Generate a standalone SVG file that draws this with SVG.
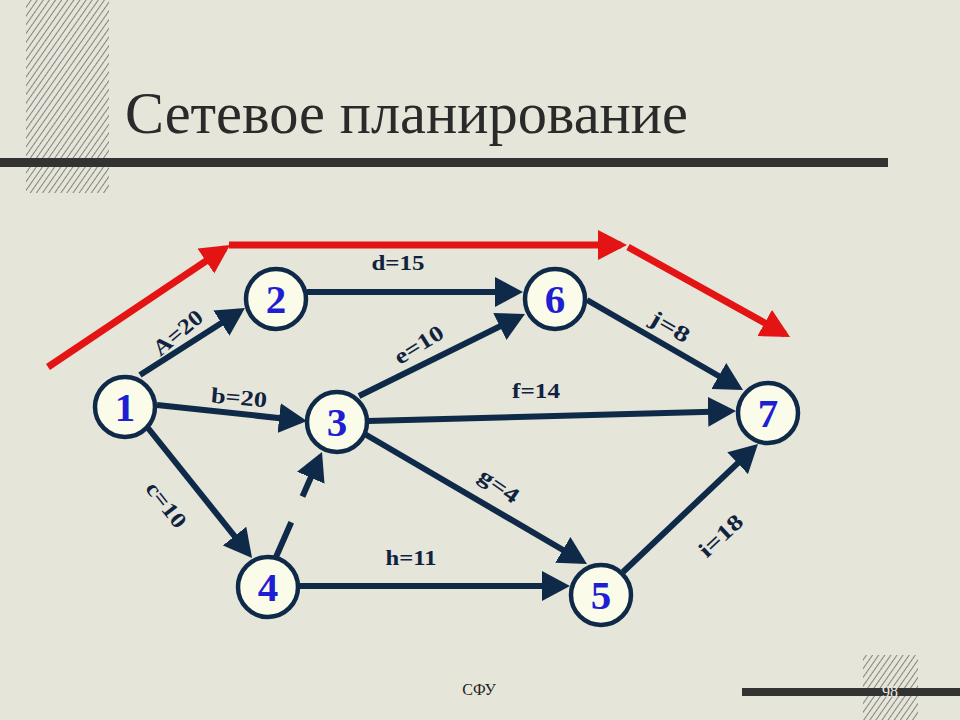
<svg xmlns="http://www.w3.org/2000/svg" width="960" height="720" viewBox="0 0 960 720">
<defs>
<pattern id="hatch" patternUnits="userSpaceOnUse" width="5" height="5" patternTransform="rotate(35)">
<rect width="5" height="5" fill="#e5e5d9"/>
<line x1="0" y1="0" x2="0" y2="5" stroke="#6a6a6a" stroke-width="1.6"/>
</pattern>
<marker id="ah" markerUnits="userSpaceOnUse" markerWidth="30" markerHeight="30" refX="22" refY="15" orient="auto">
<path d="M0,0 L28,15 L0,30 z" fill="#0f2a48"/>
</marker>
<marker id="ar" markerUnits="userSpaceOnUse" markerWidth="32" markerHeight="32" refX="23" refY="15" orient="auto">
<path d="M0,0 L29,15 L0,30 z" fill="#e41414"/>
</marker>
</defs>
<style>
.edge{stroke:#0f2a48;stroke-width:6;fill:none;marker-end:url(#ah)}
.red{stroke:#e41414;stroke-width:7;fill:none;marker-end:url(#ar)}
.node circle{fill:#fbfbea;stroke:#0f2a48;stroke-width:4.5}
.node text{font-family:"Liberation Serif","Times New Roman",serif;font-weight:bold;font-size:41px;fill:#1e1ed2;text-anchor:middle}
.lbl{font-family:"Liberation Serif","Times New Roman",serif;font-weight:bold;font-size:22px;fill:#0f2240;text-anchor:middle}
</style>
<rect width="960" height="720" fill="#e5e5d9"/>
<rect x="26" y="0" width="83" height="193" fill="url(#hatch)"/>
<rect x="863" y="655" width="55" height="65" fill="url(#hatch)"/>
<rect x="0" y="158" width="888" height="9" fill="#333333"/>
<rect x="742" y="688" width="218" height="8" fill="#333333"/>
<text x="125" y="133" font-family="'Liberation Serif','Times New Roman',serif" font-size="60" fill="#2a2a2a" textLength="563" lengthAdjust="spacingAndGlyphs">Сетевое планирование</text>
<text x="479" y="695" font-family="'Liberation Serif','Times New Roman',serif" font-size="16" fill="#222222" text-anchor="middle">СФУ</text>
<text x="890" y="697" font-family="'Liberation Serif','Times New Roman',serif" font-size="16" fill="#e8e8e0" text-anchor="middle">98</text>

<g id="critical-path">
<line class="red" x1="48" y1="367" x2="225" y2="248.3"/>
<line class="red" x1="229" y1="245" x2="621" y2="245"/>
<line class="red" x1="628" y1="247" x2="784.8" y2="334.1"/>
</g>

<g id="connectors">
<line class="edge" x1="140" y1="375" x2="239.9" y2="311.2"/>
<line class="edge" x1="157" y1="405" x2="301" y2="420.4"/>
<line class="edge" x1="148" y1="428" x2="248.3" y2="553.3"/>
<line class="edge" x1="307" y1="292" x2="517" y2="292"/>
<line class="edge" x1="359" y1="396" x2="519.6" y2="316.7"/>
<line class="edge" x1="368" y1="421" x2="730" y2="411.2"/>
<line class="edge" x1="363" y1="433" x2="581.8" y2="561"/>
<line class="edge" x1="276" y1="557" x2="319.6" y2="457.5" stroke-dasharray="38 28"/>
<line class="edge" x1="300" y1="586" x2="564" y2="586"/>
<line class="edge" x1="623" y1="572" x2="753.6" y2="448.1"/>
<line class="edge" x1="587" y1="300" x2="737.8" y2="387"/>
</g>

<g id="labels">
<text class="lbl" transform="translate(178,333) rotate(-40)" y="7" textLength="58" lengthAdjust="spacingAndGlyphs">A=20</text>
<text class="lbl" transform="translate(239,398) rotate(5)" y="7" textLength="56" lengthAdjust="spacingAndGlyphs">b=20</text>
<text class="lbl" transform="translate(166,505) rotate(52)" y="7" textLength="52" lengthAdjust="spacingAndGlyphs">c=10</text>
<text class="lbl" x="398" y="270" textLength="53" lengthAdjust="spacingAndGlyphs">d=15</text>
<text class="lbl" transform="translate(419,345) rotate(-32)" y="7" textLength="54" lengthAdjust="spacingAndGlyphs">e=10</text>
<text class="lbl" x="536" y="398" textLength="48" lengthAdjust="spacingAndGlyphs">f=14</text>
<text class="lbl" transform="translate(499,486) rotate(35)" y="7" textLength="44" lengthAdjust="spacingAndGlyphs">g=4</text>
<text class="lbl" x="411" y="565" textLength="51" lengthAdjust="spacingAndGlyphs">h=11</text>
<text class="lbl" transform="translate(721,536) rotate(-43)" y="7" textLength="52" lengthAdjust="spacingAndGlyphs">i=18</text>
<text class="lbl" transform="translate(670,327) rotate(30)" y="7" textLength="42" lengthAdjust="spacingAndGlyphs">j=8</text>
</g>

<g id="node1" class="node"><circle cx="125" cy="407" r="30"/><text x="125" y="421">1</text></g>
<g id="node2" class="node"><circle cx="276" cy="299" r="30"/><text x="276" y="313">2</text></g>
<g id="node3" class="node"><circle cx="337" cy="422" r="30"/><text x="337" y="436">3</text></g>
<g id="node4" class="node"><circle cx="268" cy="587" r="30"/><text x="268" y="601">4</text></g>
<g id="node5" class="node"><circle cx="601" cy="595" r="30"/><text x="601" y="609">5</text></g>
<g id="node6" class="node"><circle cx="555" cy="299" r="30"/><text x="555" y="313">6</text></g>
<g id="node7" class="node"><circle cx="768" cy="413" r="30"/><text x="768" y="427">7</text></g>
</svg>
